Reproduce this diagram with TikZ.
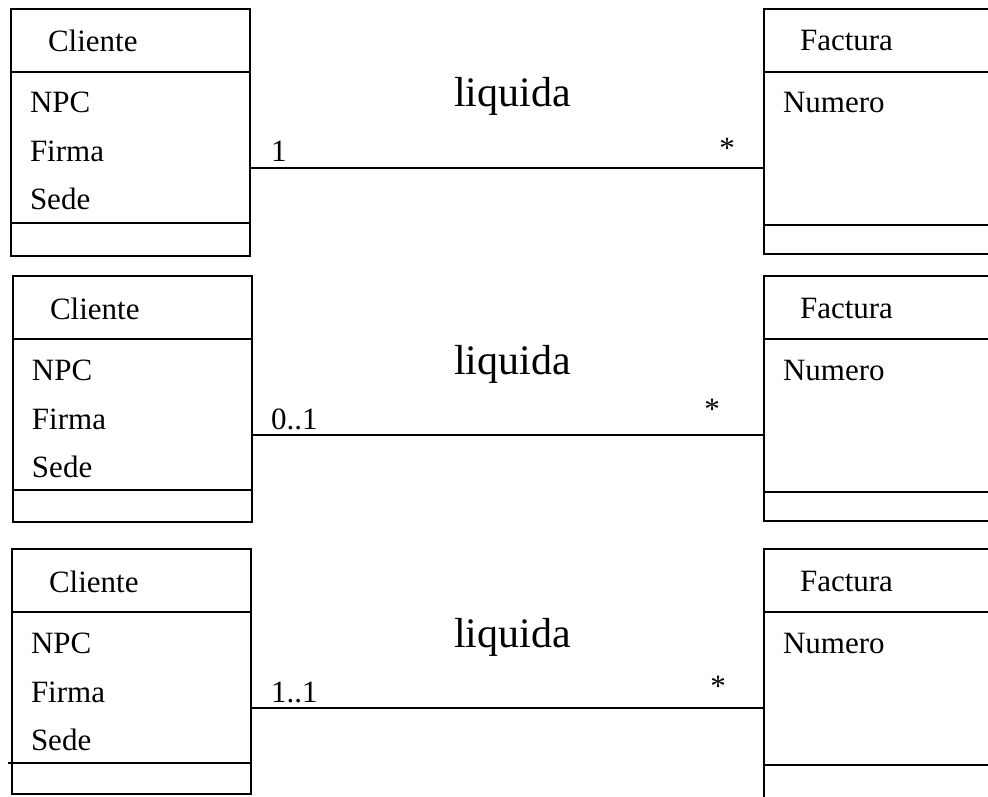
\documentclass[tikz,border=0pt]{standalone}
\usepackage{fontspec}
\setmainfont{Liberation Serif}
\usetikzlibrary{positioning}

\begin{document}
\begin{tikzpicture}
		[x=0.5pt,y=-0.5pt,line width=1pt,
		%Styles
		class box/.style={draw,rectangle,anchor=north west,inner sep=0pt,minimum width=#1},
		attr text/.style={anchor=base west,inner sep=0pt,font=\fontsize{15.5}{18}\selectfont},
		mult text/.style={anchor=base,inner sep=0pt,font=\fontsize{15.5}{18}\selectfont},
		assoc text/.style={anchor=base west,inner sep=0pt,font=\fontsize{21}{25}\selectfont}
		]
		
		\clip (0,0) rectangle (988,796);
		
		%The graphic
		\foreach \i/\dy/\lx/\lh/\fh/\m/\sx/\sy in
			{1/0/10/247/245/1/727/159,
			 2/267/12/246/245/0..1/712/419,
			 3/540/11/245/270/1..1/718/696}
		{
			% Cliente
			\node[class box=119.5pt,minimum height=\lh*0.5pt] (cl\i) at (\lx,8+\dy) {};
			\draw (cl\i.north west) ++(0,64) -- ++(239,0);
			\draw (cl\i.north west) ++(0,215) -- ++(239,0);
			\node[attr text] (cn\i) at (\lx+37,52+\dy) {Cliente};
			\node[attr text] (a1\i) at (\lx+19,113+\dy) {NPC};
			\node[attr text] (a2\i) at (\lx+19,162+\dy) {Firma};
			\node[attr text] (a3\i) at (\lx+19,210+\dy) {Sede};
			
			% Factura
			\node[class box=120pt,minimum height=\fh*0.5pt] (fa\i) at (763,8+\dy) {};
			\draw (fa\i.north west) ++(0,64) -- ++(240,0);
			\draw (fa\i.north west) ++(0,217) -- ++(240,0);
			\node[attr text] (fn\i) at (799,51+\dy) {Factura};
			\node[attr text] (b1\i) at (782,113+\dy) {Numero};
			
			% Asociacion
			\coordinate (m\i) at (0,168+\dy);
			\draw (cl\i.east |- m\i) -- (fa\i.west |- m\i);
			\node[assoc text] (as\i) at (453,107+\dy) {liquida};
			\node[attr text] (ml\i) at (270,162+\dy) {\m};
			\node[mult text] (mr\i) at (\sx,\sy) {*};
		}
		\draw (8,763) -- (cl3.west |- 0,763);
	\end{tikzpicture}
\end{document}
